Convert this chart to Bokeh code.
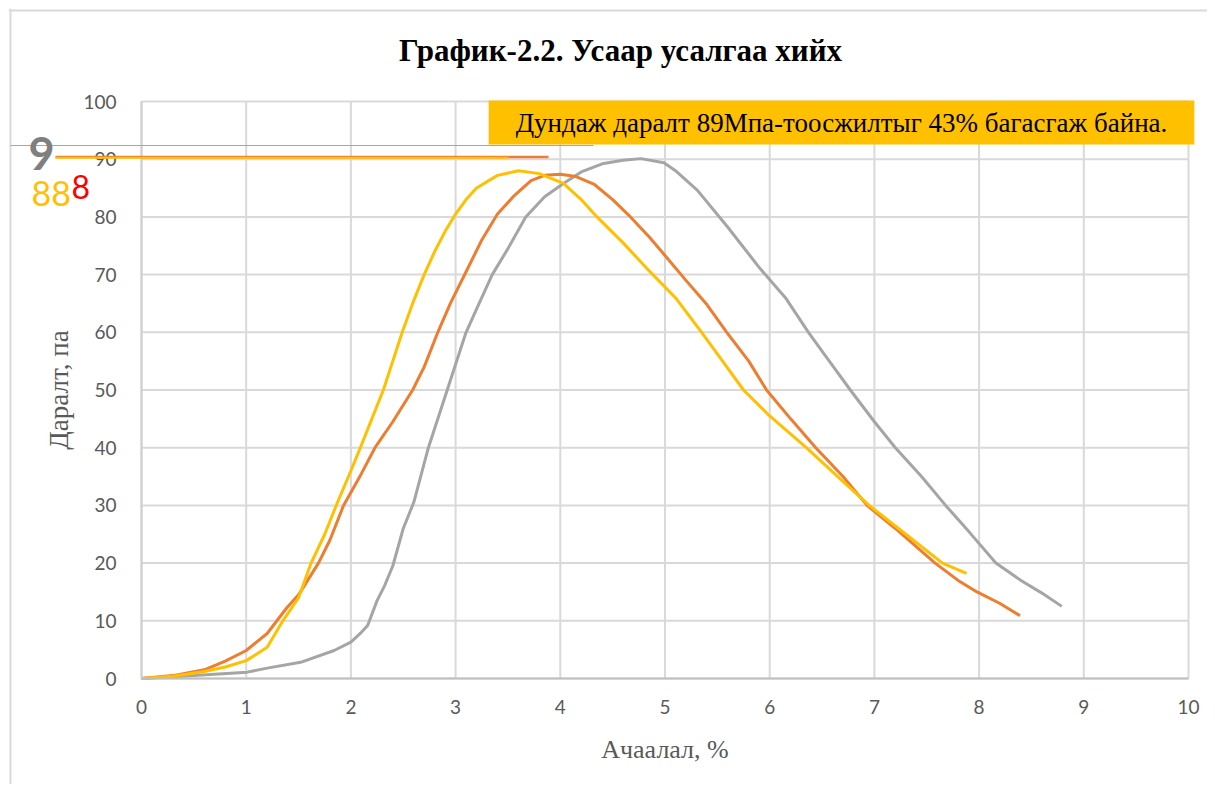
from bokeh.plotting import figure
from bokeh.models import Label, Arrow, Span, FixedTicker
from bokeh.embed import file_html
from bokeh.resources import INLINE

# ---- data ----
yellow_x = [0, 0.3, 0.6, 0.8, 1.0, 1.2, 1.35, 1.5, 1.62, 1.75, 1.86, 2.0, 2.09, 2.2, 2.31, 2.4, 2.49, 2.6, 2.7,
            2.8, 2.9, 3.0, 3.1, 3.2, 3.4, 3.6, 3.8, 4.03, 4.2, 4.35, 4.6, 4.83, 5.1, 5.35, 5.55, 5.75, 6.0,
            6.35, 6.65, 6.95, 7.3, 7.65, 7.88]
yellow_y = [0, 0.4, 1.2, 2.0, 3.1, 5.4, 10, 14, 20, 25, 30, 36, 40, 45, 50, 55, 60, 65.5, 70,
            74, 77.5, 80.5, 83, 85, 87.2, 88.0, 87.5, 85.8, 83, 80, 75.5, 71, 66, 60, 55, 50, 45.5,
            40, 35, 30, 25, 20, 18.2]

orange_x = [0, 0.3, 0.6, 0.8, 1.0, 1.2, 1.39, 1.5, 1.69, 1.8, 1.93, 2.1, 2.23, 2.4, 2.59, 2.7, 2.83, 2.95, 3.1,
            3.25, 3.4, 3.55, 3.72, 3.85, 4.0, 4.15, 4.32, 4.5, 4.67, 4.85, 5.0, 5.2, 5.4, 5.59, 5.8, 5.97,
            6.2, 6.44, 6.7, 6.93, 7.2, 7.58, 7.8, 7.98, 8.2, 8.39]
orange_y = [0, 0.5, 1.5, 3.0, 4.85, 7.8, 12.3, 14.5, 20, 24, 30, 35.5, 40, 44.5, 50, 54, 60, 65, 70.5,
            76, 80.5, 83.5, 86.3, 87.2, 87.4, 87, 85.7, 83, 80, 76.5, 73.3, 69, 64.8, 60, 55, 50,
            45, 40, 35, 30, 26, 20, 17, 15, 13, 10.9]

gray_x = [0, 0.5, 1.01, 1.2, 1.52, 1.84, 2.0, 2.1, 2.16, 2.25, 2.32, 2.4, 2.5, 2.6, 2.74, 2.92, 3.1, 3.2, 3.35,
          3.5, 3.67, 3.85, 4.03, 4.2, 4.4, 4.6, 4.77, 4.99, 5.1, 5.31, 5.6, 5.91, 6.15, 6.37,
          6.55, 6.77, 7.0, 7.2, 7.45, 7.68, 7.9, 8.16, 8.4, 8.6, 8.79]
gray_y = [0, 0.5, 1.1, 1.8, 2.8, 4.85, 6.3, 8.0, 9.2, 13.5, 16, 19.5, 26, 30.5, 40, 50, 60, 64, 70,
          74.5, 80, 83.5, 85.8, 87.8, 89.2, 89.8, 90.1, 89.4, 88, 84.6, 78.2, 71, 66, 60,
          55.5, 50, 44.5, 40, 35, 30, 25.5, 20, 17, 14.8, 12.5]

x_ticks = [0, 1, 2, 3, 4, 5, 6, 7, 8, 9, 10]
y_ticks = [0, 10, 20, 30, 40, 50, 60, 70, 80, 90, 100]

title_text = "График-2.2. Усаар усалгаа хийх"
x_title = "Ачаалал, %"
y_title = "Даралт, па"
note_text = "Дундаж даралт 89Мпа-тоосжилтыг 43% багасгаж байна."

YELLOW = "#FFC000"
ORANGE = "#ED7D31"
GRAY = "#A5A5A5"
TXT = "#595959"
GRID = "#d9d9d9"

# ---- layout: pixel geometry of the chart area on the page ----
W, H = 1207, 784
FRAME_L, FRAME_T = 8, 8
X0_PX, X10_PX = 141.0, 1188.0     # where x=0 and x=10 sit
Y0_PX, Y100_PX = 678.0, 101.0     # where y=0 and y=100 sit
KX = (X10_PX - X0_PX) / 10.0
KY = (Y0_PX - Y100_PX) / 100.0


def X(px):
    return (px - X0_PX) / KX


def Y(py):
    return (Y0_PX - py) / KY


p = figure(width=W, height=H, x_range=(X(FRAME_L), X(W)), y_range=(Y(H), Y(FRAME_T)),
           output_backend="svg", toolbar_location=None,
           min_border_left=FRAME_L, min_border_top=FRAME_T, min_border_right=0, min_border_bottom=0)
p.background_fill_color = "white"
p.border_fill_color = "white"
p.outline_line_color = None
p.xgrid.visible = False
p.ygrid.visible = False

# gridlines confined to the data area
p.segment(x0=x_ticks, y0=[y_ticks[0]] * len(x_ticks), x1=x_ticks, y1=[y_ticks[-1]] * len(x_ticks),
          line_color=GRID, line_width=2)
p.segment(x0=[x_ticks[0]] * len(y_ticks), y0=y_ticks, x1=[x_ticks[-1]] * len(y_ticks), y1=y_ticks,
          line_color=GRID, line_width=2)

for ax in (p.xaxis, p.yaxis):
    ax.fixed_location = 0
    ax.major_tick_line_color = None
    ax.minor_tick_line_color = None
    ax.major_label_text_font = "Lato"
    ax.major_label_text_font_size = "19px"
    ax.major_label_text_color = TXT
    ax.axis_label_text_font = "Liberation Serif"
    ax.axis_label_text_font_style = "normal"
    ax.axis_label_text_color = TXT

p.xaxis.bounds = (x_ticks[0], x_ticks[-1])
p.yaxis.bounds = (y_ticks[0], y_ticks[-1])
p.xaxis.axis_label_text_font_size = "26px"
p.yaxis.axis_label_text_font_size = "27px"
p.xaxis.ticker = FixedTicker(ticks=x_ticks)
p.yaxis.ticker = FixedTicker(ticks=y_ticks)
p.xaxis.axis_label = x_title
p.yaxis.axis_label = y_title
p.xaxis.axis_line_color = "#bfbfbf"
p.xaxis.axis_line_width = 2
p.yaxis.axis_line_color = "#d0d0d0"
p.yaxis.axis_line_width = 2
p.xaxis.major_label_standoff = 15
p.yaxis.major_label_standoff = 19
p.xaxis.axis_label_standoff = 18
p.yaxis.axis_label_standoff = 6

# outer chart border (top and left edges)
p.add_layout(Span(location=Y(10), dimension="width", line_color=GRID, line_width=2))
p.add_layout(Span(location=X(10), dimension="height", line_color=GRID, line_width=2))

# series
p.line(gray_x, gray_y, line_color=GRAY, line_width=3)
p.line(orange_x, orange_y, line_color=ORANGE, line_width=3)
p.line(yellow_x, yellow_y, line_color=YELLOW, line_width=3)

# stray drawing lines near 90
p.add_layout(Arrow(start=None, end=None, x_start=X(10), y_start=Y(145), x_end=X(593), y_end=Y(145),
                   line_color="#a6a6a6", line_width=1))
p.add_layout(Arrow(start=None, end=None, x_start=X(55), y_start=Y(156.5), x_end=X(548), y_end=Y(156.5),
                   line_color=ORANGE, line_width=2.5))
p.add_layout(Arrow(start=None, end=None, x_start=X(55), y_start=Y(157.2), x_end=X(508), y_end=Y(157.2),
                   line_color=YELLOW, line_width=2))

# stray digits
p.add_layout(Label(x=X(28), y=Y(153), text="9", text_font="Lato", text_font_style="bold",
                   text_font_size="45px", text_color="#7f7f7f", text_baseline="alphabetic"))
p.add_layout(Label(x=X(31), y=Y(193), text="88", text_font="Lato",
                   text_font_size="34px", text_color=YELLOW, text_baseline="alphabetic"))
p.add_layout(Label(x=X(71), y=Y(186), text="8", text_font="Lato",
                   text_font_size="32px", text_color="#FF0000", text_baseline="alphabetic"))

# note box
p.add_layout(Label(x=X(841), y=Y(122), text=note_text,
                   text_font="Liberation Serif", text_font_size="27px", text_color="black",
                   text_align="center", text_baseline="middle", background_fill_color=YELLOW,
                   padding=dict(left=27, right=27, top=7, bottom=7)))

# title
p.add_layout(Label(x=X(620), y=Y(50), text=title_text,
                   text_font="Liberation Serif", text_font_style="bold", text_font_size="31px",
                   text_color="black", text_align="center", text_baseline="middle"))

open("out.html", "w").write(file_html(p, INLINE))
